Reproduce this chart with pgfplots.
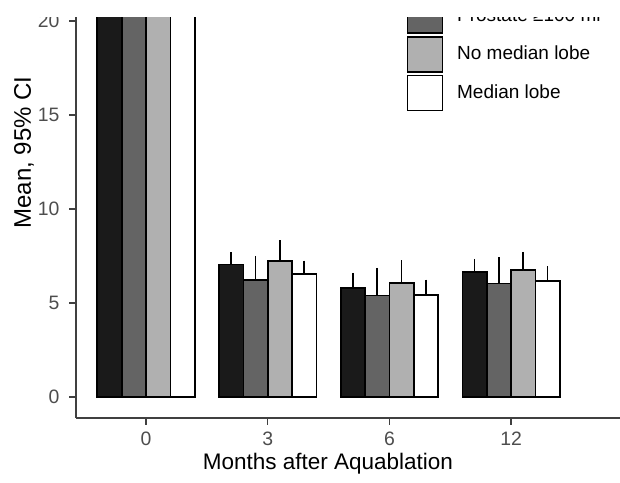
\documentclass[border=0pt]{standalone}
\usepackage{fontspec}
\setmainfont{Liberation Sans}
\usepackage{pgfplots}
\pgfplotsset{compat=1.18}
\definecolor{cblack}{HTML}{1A1A1A}
\definecolor{cdark}{HTML}{646464}
\definecolor{clight}{HTML}{B0B0B0}
\definecolor{tickgrey}{HTML}{4D4D4D}
\begin{document}
\begin{tikzpicture}
\begin{axis}[
  scale only axis,
  width=308.8pt, height=209pt,
  xmin=-0.575, xmax=4.5,
  ymin=-1.117, ymax=21.117,
  clip=true,
  axis x line*=bottom, axis y line*=left,
  axis line style={-, draw=black!75, line width=0.7pt},
  xtick={0,1,2,3}, xticklabels={0,3,6,12},
  ytick={0,5,10,15,20},
  tick align=outside,
  major tick length=3.5pt,
  tick style={draw=black!75, line width=0.6pt},
  /pgf/number format/assume math mode=true,
  ticklabel style={font=\fontsize{9.7}{11}\selectfont, text=tickgrey},
  xticklabel style={yshift=0pt},
  yticklabel style={xshift=-1.25pt},
  ybar, bar width=0.2,
  error bars/error bar style={line width=0.9pt, draw=black},
  error bars/error mark options={mark size=1.1pt, line width=0.8pt, draw=black},
  legend style={draw=none, fill=none, at={(0.5248,0.7236)}, anchor=south west,
    font=\fontsize{9.5}{11}\selectfont, row sep=1pt,
    nodes={inner sep=0pt}},
  legend cell align=left,
  /tikz/every odd column/.append style={column sep=7pt},
  legend image code/.code={\draw[#1, line width=0.8pt] (0pt,-8.75pt) rectangle (17.5pt,8.75pt);},
]
\addplot[bar shift=-0.3, draw=black, line width=0.85pt, fill=cblack, error bars/.cd, y dir=plus, y explicit]
  coordinates {(0,24) +- (0,0) (1,7.04) +- (0,0.55) (2,5.78) +- (0,0.71) (3,6.65) +- (0,0.58)};
\addlegendentry{All patients}
\addplot[bar shift=-0.1, draw=black, line width=0.85pt, fill=cdark, error bars/.cd, y dir=plus, y explicit]
  coordinates {(0,25) +- (0,0) (1,6.24) +- (0,1.15) (2,5.39) +- (0,1.36) (3,6.03) +- (0,1.29)};
\addlegendentry{Prostate ≥100 ml}
\addplot[bar shift=0.1, draw=black, line width=0.85pt, fill=clight, error bars/.cd, y dir=plus, y explicit]
  coordinates {(0,23) +- (0,0) (1,7.23) +- (0,0.99) (2,6.06) +- (0,1.10) (3,6.74) +- (0,0.86)};
\addlegendentry{No median lobe}
\addplot[bar shift=0.3, draw=black, line width=0.85pt, fill=white, error bars/.cd, y dir=plus, y explicit]
  coordinates {(0,22) +- (0,0) (1,6.53) +- (0,0.61) (2,5.43) +- (0,0.69) (3,6.17) +- (0,0.67)};
\addlegendentry{Median lobe}
\coordinate (BL) at (axis cs:-1.2,-4.574);
\coordinate (TR) at (axis cs:3.895,21.117);
\coordinate (W1) at (axis cs:-1.2,20.21);
\coordinate (YL) at (axis cs:-1.0025,13.0);
\coordinate (XL) at (axis cs:1.495,-3.88);
\end{axis}
\node[rotate=90, font=\fontsize{12}{14}\selectfont, inner sep=0pt] at (YL) {Mean, 95\% CI};
\node[anchor=base, font=\fontsize{11.25}{13}\selectfont, inner sep=0pt] at (XL) {Months after Aquablation};
\fill[white] (W1) rectangle (TR);
\pgfresetboundingbox
\path[use as bounding box] (BL) rectangle (TR);
\end{tikzpicture}
\end{document}
